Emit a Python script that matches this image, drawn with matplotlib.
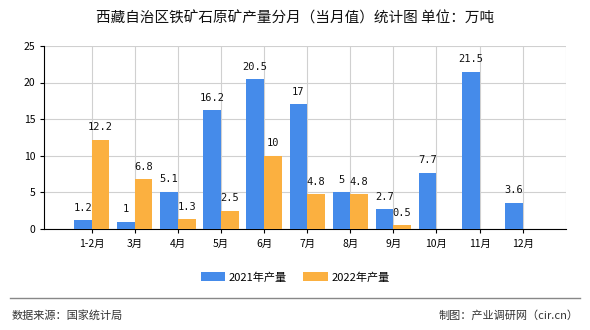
import matplotlib.pyplot as plt
import numpy as np

plt.rcParams['font.family'] = ['Noto Sans CJK SC', 'DejaVu Sans']

months = ['1-2月', '3月', '4月', '5月', '6月', '7月', '8月', '9月', '10月', '11月', '12月']
y2021 = [1.2, 1, 5.1, 16.2, 20.5, 17, 5, 2.7, 7.7, 21.5, 3.6]
y2022 = [12.2, 6.8, 1.3, 2.5, 10, 4.8, 4.8, 0.5, None, None, None]

c2021 = '#458bea'
c2022 = '#fbb040'

fig = plt.figure(figsize=(5.9, 3.3), dpi=100)
ax = fig.add_axes([0.075, 0.306, 0.884, 0.555])

x = np.arange(len(months))
w = 0.41
b1 = ax.bar(x - w / 2, y2021, w, color=c2021, label='2021年产量', zorder=3)
x2 = [i for i, v in zip(x, y2022) if v is not None]
v2 = [v for v in y2022 if v is not None]
b2 = ax.bar(np.array(x2) + w / 2, v2, w, color=c2022, label='2022年产量', zorder=3)

for xi, v in zip(x, y2021):
    ax.text(xi - w / 2, v + 1.0, f'{v:g}', ha='center', va='bottom', fontsize=7.5,
            family=['DejaVu Sans Mono'], color='#111111')
for xi, v in zip(x2, v2):
    ax.text(xi + w / 2, v + 1.0, f'{v:g}', ha='center', va='bottom', fontsize=7.5,
            family=['DejaVu Sans Mono'], color='#111111')

ax.set_xlim(-1.1, 11.0)
ax.set_ylim(0, 25)
ax.set_yticks([0, 5, 10, 15, 20, 25])
ax.set_xticks(x)
ax.set_xticklabels(months)
ax.tick_params(axis='both', labelsize=7.5, length=3, color='#000000')
ax.tick_params(axis='x', pad=4)
ax.grid(True, color='#d0d0d0', linewidth=0.8, zorder=0)
ax.axvline(11.0, color='#d0d0d0', linewidth=0.8)
for s in ['top', 'right']:
    ax.spines[s].set_visible(False)
ax.spines['left'].set_color('#000000')
ax.spines['bottom'].set_color('#000000')
ax.spines['left'].set_linewidth(0.8)
ax.spines['bottom'].set_linewidth(0.8)

fig.text(0.5, 0.945, '西藏自治区铁矿石原矿产量分月（当月值）统计图 单位：万吨',
         ha='center', va='center', fontsize=10.5, color='#111111')

fig.legend(handles=[b1, b2], loc='center', bbox_to_anchor=(0.5, 0.16), ncol=2,
           frameon=False, fontsize=8, handlelength=2.2, handleheight=0.9,
           columnspacing=1.5, handletextpad=0.3)

fig.add_artist(plt.Line2D([0.017, 0.983], [0.098, 0.098], transform=fig.transFigure,
                          color='#888888', linewidth=1))
fig.text(0.02, 0.045, '数据来源：国家统计局', ha='left', va='center', fontsize=8, color='#333333')
fig.text(0.98, 0.045, '制图：产业调研网（cir.cn）', ha='right', va='center', fontsize=8, color='#333333')

fig.savefig('out.png', dpi=100)
